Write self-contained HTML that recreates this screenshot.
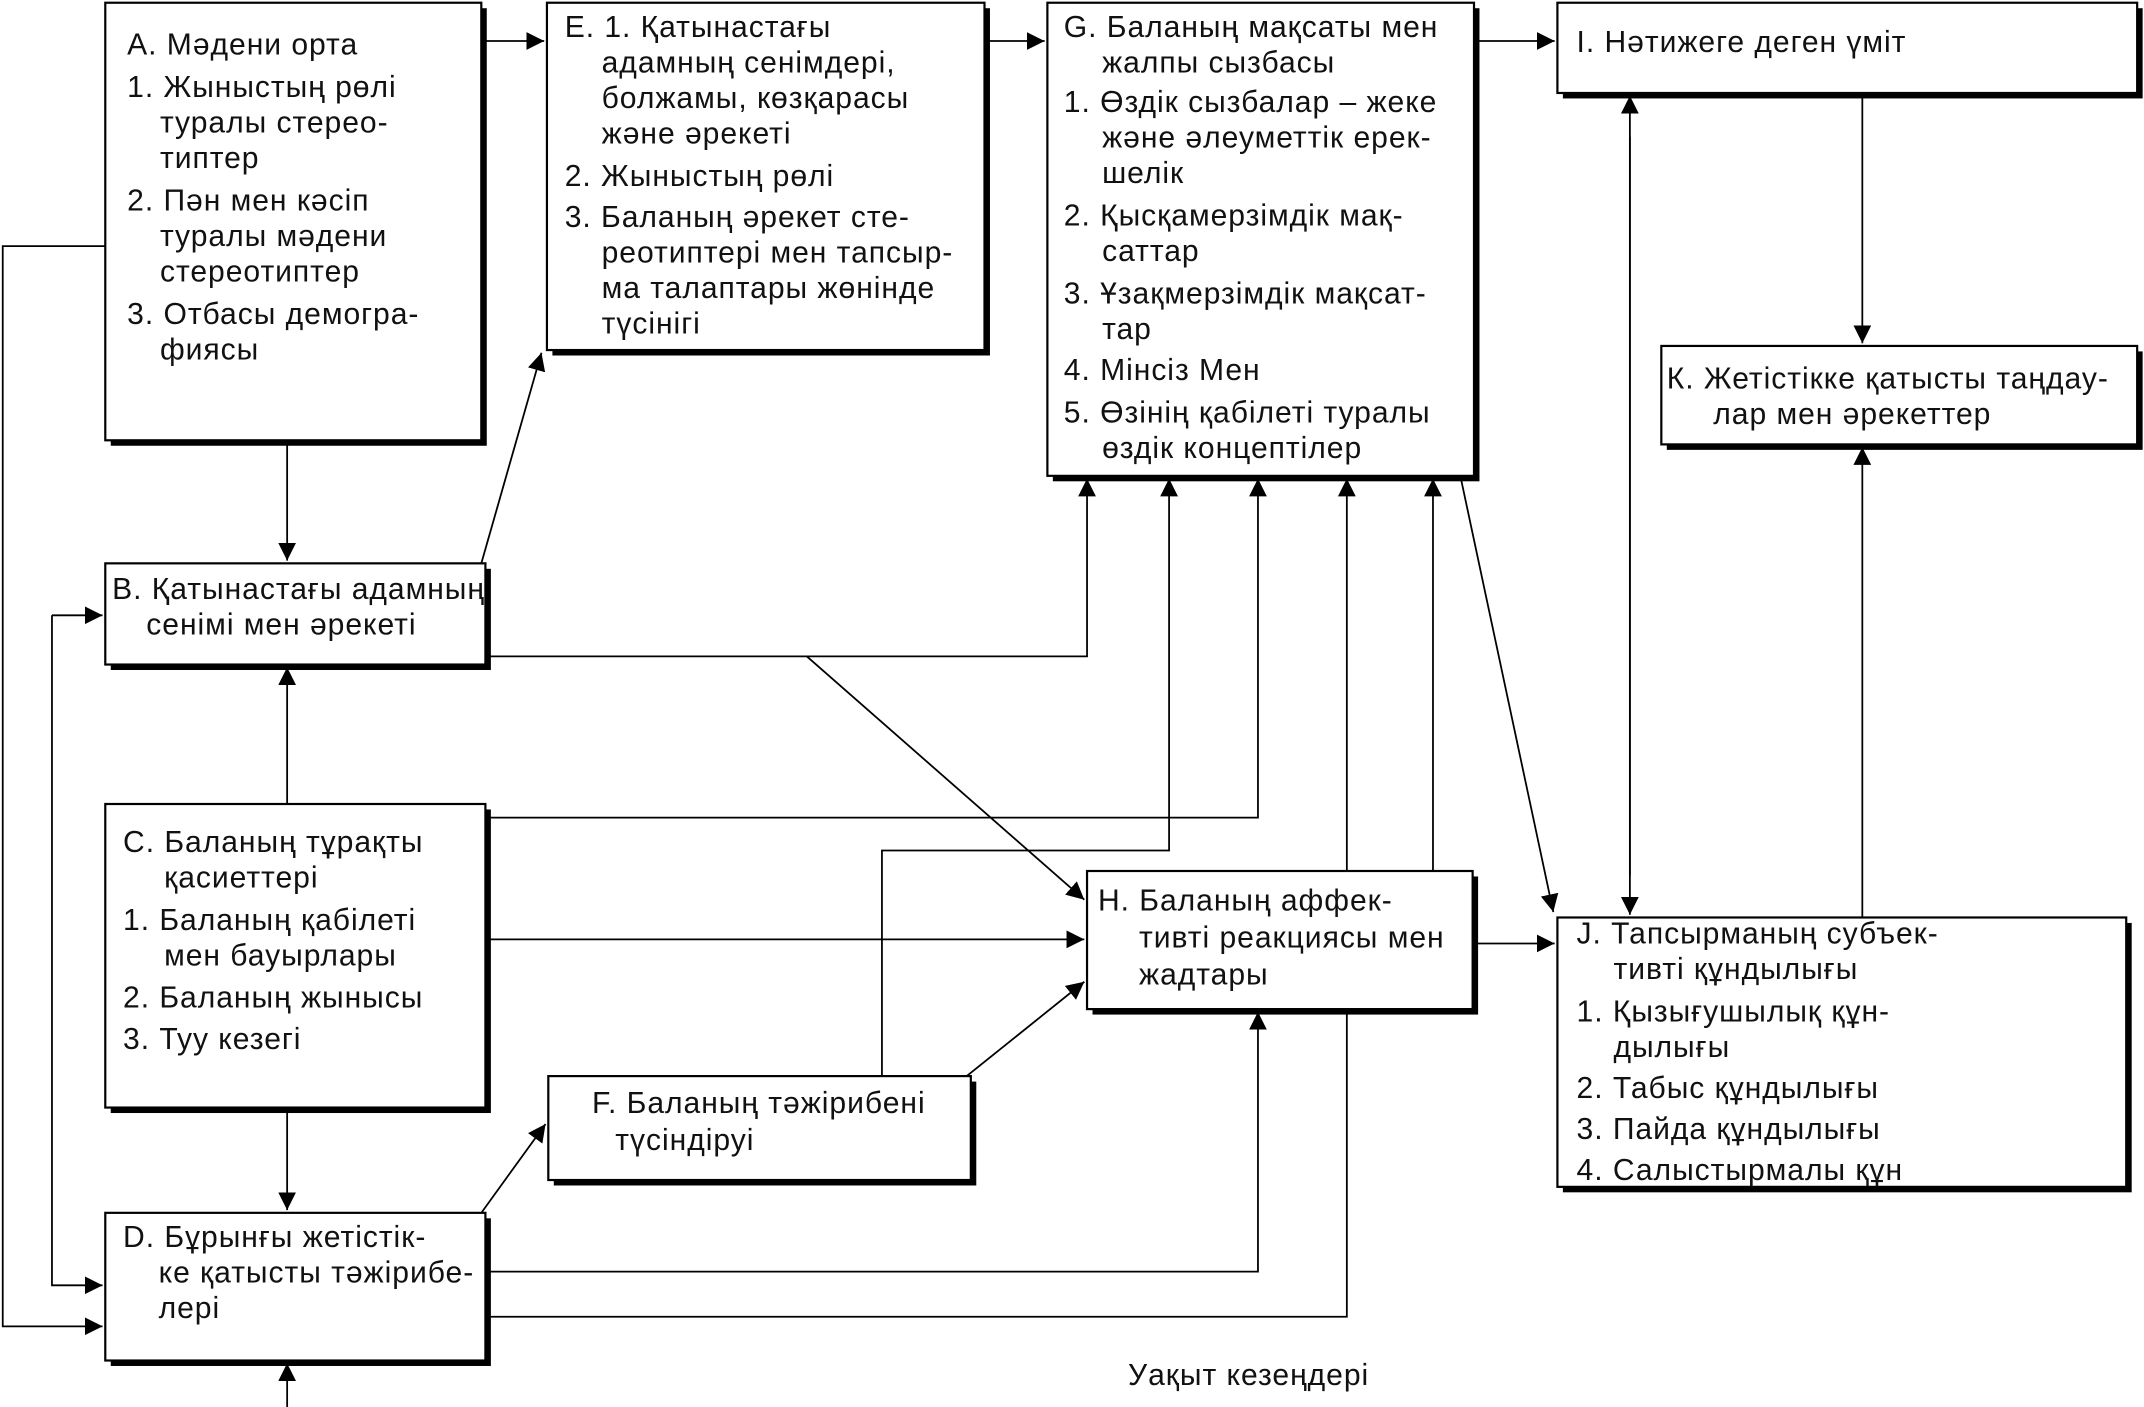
<!DOCTYPE html>
<html><head><meta charset="utf-8"><style>
html,body{margin:0;padding:0;background:#fff}
svg{display:block}
text{font-family:"Liberation Sans",Arial,sans-serif;font-size:22px;letter-spacing:0.7px;fill:#111}
.b{fill:#fff;stroke:#000;stroke-width:1.6}
.s{fill:#000}
.l{fill:none;stroke:#000;stroke-width:1.3}
</style></head><body>
<svg width="2144" height="1407" viewBox="0 0 1568 1029" xmlns="http://www.w3.org/2000/svg">
<defs><marker id="a" viewBox="0 0 10 10" refX="10" refY="5" markerWidth="13" markerHeight="13" markerUnits="userSpaceOnUse" orient="auto"><path d="M0,0L10,5L0,10z" fill="#000"/></marker></defs>
<g>
<rect class="s" x="81" y="6" width="275" height="320"/><rect class="b" x="77" y="2" width="275" height="320"/>
<rect class="s" x="404" y="6" width="320" height="254"/><rect class="b" x="400" y="2" width="320" height="254"/>
<rect class="s" x="770" y="6" width="312" height="346"/><rect class="b" x="766" y="2" width="312" height="346"/>
<rect class="s" x="1143" y="6" width="424" height="66"/><rect class="b" x="1139" y="2" width="424" height="66"/>
<rect class="s" x="1219" y="257" width="348" height="72"/><rect class="b" x="1215" y="253" width="348" height="72"/>
<rect class="s" x="81" y="416" width="278" height="74"/><rect class="b" x="77" y="412" width="278" height="74"/>
<rect class="s" x="81" y="592" width="278" height="222"/><rect class="b" x="77" y="588" width="278" height="222"/>
<rect class="s" x="799" y="641" width="282" height="101"/><rect class="b" x="795" y="637" width="282" height="101"/>
<rect class="s" x="1143" y="675" width="416" height="197"/><rect class="b" x="1139" y="671" width="416" height="197"/>
<rect class="s" x="405" y="791" width="309" height="76"/><rect class="b" x="401" y="787" width="309" height="76"/>
<rect class="s" x="81" y="891" width="278" height="108"/><rect class="b" x="77" y="887" width="278" height="108"/>
</g>
<g class="l">
<path d="M77,180H2V970H75" marker-end="url(#a)"/>
<path d="M352,30H398" marker-end="url(#a)"/>
<path d="M720,30H764" marker-end="url(#a)"/>
<path d="M1078,30H1137" marker-end="url(#a)"/>
<path d="M1362,68V251" marker-end="url(#a)"/>
<path d="M210,322V410" marker-end="url(#a)"/>
<path d="M352,412L396,258" marker-end="url(#a)"/>
<path d="M38,450H75" marker-end="url(#a)"/>
<path d="M38,450V940H75" marker-end="url(#a)"/>
<path d="M355,480H795V350" marker-end="url(#a)"/>
<path d="M590,480L793,658" marker-end="url(#a)"/>
<path d="M210,588V488" marker-end="url(#a)"/>
<path d="M355,598H920V350" marker-end="url(#a)"/>
<path d="M355,687H793" marker-end="url(#a)"/>
<path d="M210,810V885" marker-end="url(#a)"/>
<path d="M645,787V622H855V350" marker-end="url(#a)"/>
<path d="M707,787L793,718" marker-end="url(#a)"/>
<path d="M352,887L399,822" marker-end="url(#a)"/>
<path d="M355,930H920V740" marker-end="url(#a)"/>
<path d="M355,963H985V738"/>
<path d="M985,637V350" marker-end="url(#a)"/>
<path d="M1048,637V350" marker-end="url(#a)"/>
<path d="M1068,348L1136,667" marker-end="url(#a)"/>
<path d="M1077,690H1137" marker-end="url(#a)"/>
<path d="M1192,100V669" marker-end="url(#a)"/>
<path d="M1192,640V70" marker-end="url(#a)"/>
<path d="M1362,671V327" marker-end="url(#a)"/>
<path d="M210,1029V997" marker-end="url(#a)"/>
</g>
<g>
<text x="93" y="40">А. Мәдени орта</text>
<text x="93" y="71">1. Жыныстың рөлі</text>
<text x="117" y="97">туралы стерео-</text>
<text x="117" y="123">типтер</text>
<text x="93" y="154">2. Пән мен кәсіп</text>
<text x="117" y="180">туралы мәдени</text>
<text x="117" y="206">стереотиптер</text>
<text x="93" y="237">3. Отбасы демогра-</text>
<text x="117" y="263">фиясы</text>

<text x="413" y="27">Е. 1. Қатынастағы</text>
<text x="440" y="53">адамның сенімдері,</text>
<text x="440" y="79">болжамы, көзқарасы</text>
<text x="440" y="105">және әрекеті</text>
<text x="413" y="136">2. Жыныстың рөлі</text>
<text x="413" y="166">3. Баланың әрекет сте-</text>
<text x="440" y="192">реотиптері мен тапсыр-</text>
<text x="440" y="218">ма талаптары жөнінде</text>
<text x="440" y="244">түсінігі</text>

<text x="778" y="27">G. Баланың мақсаты мен</text>
<text x="806" y="53">жалпы сызбасы</text>
<text x="778" y="82">1. Өздік сызбалар – жеке</text>
<text x="806" y="108">және әлеуметтік ерек-</text>
<text x="806" y="134">шелік</text>
<text x="778" y="165">2. Қысқамерзімдік мақ-</text>
<text x="806" y="191">саттар</text>
<text x="778" y="222">3. Ұзақмерзімдік мақсат-</text>
<text x="806" y="248">тар</text>
<text x="778" y="278">4. Мінсіз Мен</text>
<text x="778" y="309">5. Өзінің қабілеті туралы</text>
<text x="806" y="335">өздік концептілер</text>

<text x="1153" y="38">І. Нәтижеге деген үміт</text>
<text x="1219" y="284">К. Жетістікке қатысты таңдау-</text>
<text x="1253" y="310">лар мен әрекеттер</text>

<text x="82" y="438">В. Қатынастағы адамның</text>
<text x="107" y="464">сенімі мен әрекеті</text>

<text x="90" y="623">С. Баланың тұрақты</text>
<text x="120" y="649">қасиеттері</text>
<text x="90" y="680">1. Баланың қабілеті</text>
<text x="120" y="706">мен бауырлары</text>
<text x="90" y="737">2. Баланың жынысы</text>
<text x="90" y="767">3. Туу кезегі</text>

<text x="803" y="666">Н. Баланың аффек-</text>
<text x="833" y="693">тивті реакциясы мен</text>
<text x="833" y="720">жадтары</text>

<text x="1153" y="690">J. Тапсырманың субъек-</text>
<text x="1180" y="716">тивті құндылығы</text>
<text x="1153" y="747">1. Қызығушылық құн-</text>
<text x="1180" y="773">дылығы</text>
<text x="1153" y="803">2. Табыс құндылығы</text>
<text x="1153" y="833">3. Пайда құндылығы</text>
<text x="1153" y="863">4. Салыстырмалы құн</text>

<text x="433" y="814">F. Баланың тәжірибені</text>
<text x="450" y="841">түсіндіруі</text>

<text x="90" y="912">D. Бұрынғы жетістік-</text>
<text x="116" y="938">ке қатысты тәжірибе-</text>
<text x="116" y="964">лері</text>

<text x="825" y="1013">Уақыт кезеңдері</text>
</g>
</svg>
</body></html>
